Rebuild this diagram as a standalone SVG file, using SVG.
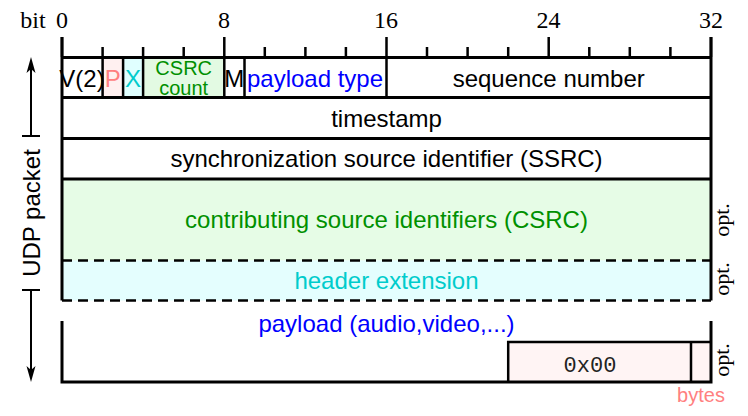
<svg xmlns="http://www.w3.org/2000/svg" width="748" height="416" viewBox="0 0 748 416">
<style>
.sans{font-family:"Liberation Sans",Arial,sans-serif;font-size:24px;text-anchor:middle}
.small{font-size:20px}
.serif{font-family:"Liberation Serif","Times New Roman",serif;font-size:24px;text-anchor:middle}
.opt{font-family:"Liberation Serif","Times New Roman",serif;font-size:22px;text-anchor:middle}
.mono{font-family:"Liberation Mono","Courier New",monospace;font-size:22px;text-anchor:middle;fill:#222}
.thick{stroke:#000;stroke-width:3;fill:none}
.div{stroke:#000;stroke-width:2.5;fill:none}
.dash{stroke:#000;stroke-width:2.5;fill:none;stroke-dasharray:10 6}
.tick{stroke:#000;stroke-width:2.5}
</style>
<rect width="748" height="416" fill="#fff"/>
<g id="scale">
<text class="serif" x="33" y="28">bit</text>
<text class="serif" x="62" y="28">0</text>
<text class="serif" x="224" y="28">8</text>
<text class="serif" x="386" y="28">16</text>
<text class="serif" x="548.5" y="28">24</text>
<text class="serif" x="711" y="28">32</text>
<path class="tick" d="M62,37V57M224.3,37V57M386.5,37V57M548.7,37V57M711,37V57M102.6,47V57M143.1,47V57M183.7,47V57M264.8,47V57M305.4,47V57M345.9,47V57M427,47V57M467.6,47V57M508.2,47V57M589.3,47V57M629.8,47V57M670.4,47V57"/>
</g>
<g id="fills">
<rect x="102.6" y="57.5" width="20.5" height="40" fill="#fff0f0"/>
<rect x="123.1" y="57.5" width="20" height="40" fill="#e0ffff"/>
<rect x="143.1" y="57.5" width="81.2" height="40" fill="#e3fae3"/>
<rect x="62" y="179" width="649" height="81.5" fill="#e6fce6"/>
<rect x="62" y="260.5" width="649" height="40" fill="#e4fefe"/>
<rect x="508.2" y="342" width="202.8" height="40" fill="#fff4f4"/>
</g>
<g id="row1">
<text class="sans" x="82" y="87">V(2)</text>
<text class="sans" x="112.8" y="87" fill="#ff7f7f">P</text>
<text class="sans" x="133" y="87" fill="#00cccc">X</text>
<text class="sans small" x="183.7" y="75" fill="#009000">CSRC</text>
<text class="sans small" x="183.7" y="95" fill="#009000">count</text>
<text class="sans" x="234.3" y="87">M</text>
<text class="sans" x="315" y="87" fill="#0000ff">payload type</text>
<text class="sans" x="548.7" y="87">sequence number</text>
</g>
<g id="timestamp"><text class="sans" x="386.5" y="127">timestamp</text></g>
<g id="ssrc"><text class="sans" x="386.5" y="167">synchronization source identifier (SSRC)</text></g>
<g id="csrc"><text class="sans" x="386.5" y="228" fill="#009000">contributing source identifiers (CSRC)</text></g>
<g id="ext"><text class="sans" x="386.5" y="289" fill="#00cccc">header extension</text></g>
<g id="payload"><text class="sans" x="386.5" y="332" fill="#0000ff">payload (audio,video,...)</text></g>
<g id="padding">
<text class="mono" x="590" y="372">0x00</text>
<text class="sans small" x="701" y="402" fill="#ff8080">bytes</text>
</g>
<g id="lines">
<path class="thick" d="M62,37V300.5M711,37V300.5M60.5,57.5H712.5M62,97.5H711M62,138.5H711M62,179H711"/>
<path class="div" d="M102.6,57.5V97.5M123.1,57.5V97.5M143.1,57.5V97.5M224.3,57.5V97.5M244.5,57.5V97.5M386.5,57.5V97.5"/>
<path class="dash" d="M62,260.5H711M62,300.5H711"/>
<path class="thick" d="M62,321V382H711V321"/>
<path class="div" d="M508.2,382V342H711M691,342V382"/>
</g>
<g id="opts">
<text class="opt" transform="translate(729,220) rotate(-90)">opt.</text>
<text class="opt" transform="translate(729,279) rotate(-90)">opt.</text>
<text class="opt" transform="translate(729,360) rotate(-90)">opt.</text>
</g>
<g id="udp">
<path d="M31,68V136M22,136H40M22,290H40M31,290V372" stroke="#000" stroke-width="2" fill="none"/>
<polygon points="31,57 35.5,73 31,69 26.5,73" fill="#000"/>
<polygon points="31,382 35.5,366 31,370 26.5,366" fill="#000"/>
<text class="sans" transform="translate(40,213) rotate(-90)">UDP packet</text>
</g>
</svg>
